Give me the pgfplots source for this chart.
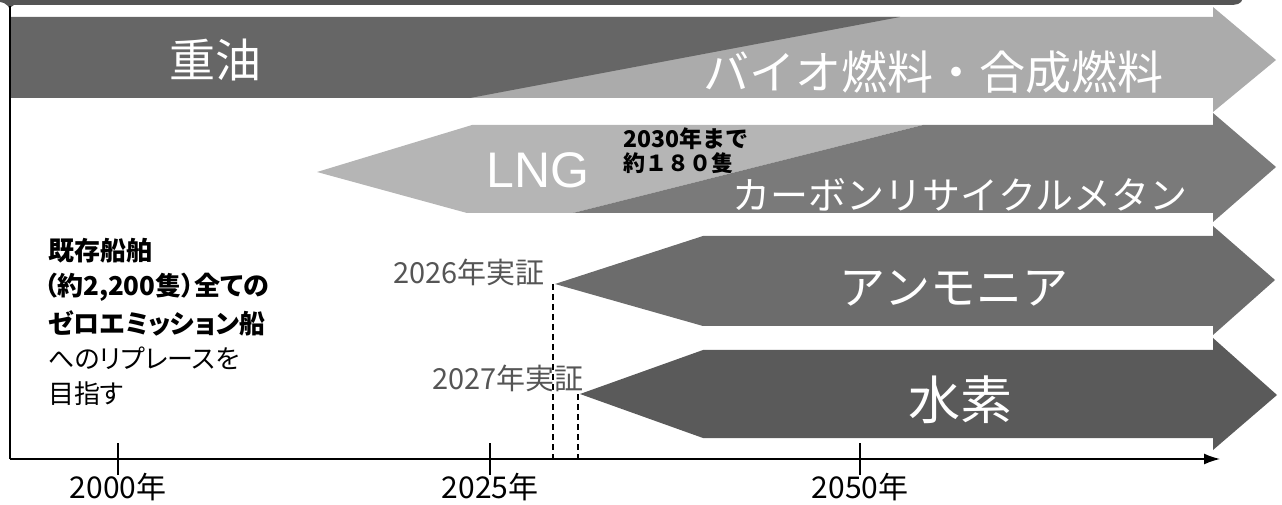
\documentclass[border=0pt]{standalone}
\usepackage{pgfplots}
\pgfplotsset{compat=1.18}
\usetikzlibrary{arrows.meta}
\usepackage{fontspec}
\setmainfont{Noto Sans CJK JP}
\newfontfamily\jpp[RawFeature=+palt]{Noto Sans CJK JP}
\newfontfamily\lat{Liberation Sans}
\definecolor{hdr}{HTML}{555555}
\definecolor{rowAdark}{HTML}{666666}
\definecolor{rowAlight}{HTML}{ABABAB}
\definecolor{lng}{HTML}{B5B5B5}
\definecolor{carbon}{HTML}{7A7A7A}
\definecolor{ammonia}{HTML}{6C6C6C}
\definecolor{hydrogen}{HTML}{5A5A5A}
\definecolor{lblgray}{HTML}{555555}
\begin{document}
\begin{tikzpicture}
\begin{axis}[
  scale only axis, width=1210pt, height=453pt,
  xmin=10, xmax=1220, ymin=43, ymax=496,
  axis x line=bottom, axis y line*=left,
  x axis line style={line width=1.5pt, -{Latex[length=16pt,width=11pt]}},
  y axis line style={line width=1.5pt, -},
  xtick={118,490,860}, xticklabels={2000年,2025年,2050年},
  ytick=\empty,
  xtick align=center, major tick length=32pt,
  xtick style={line width=1.5pt, black},
  xticklabel style={font=\fontsize{30}{32}\selectfont, anchor=center, yshift=-12pt},
  clip=false, axis on top,
]
% bounding frame (invisible)
\addplot[draw=none, forget plot] coordinates {(0,0) (1282,502)};
% header band
\addplot[fill=hdr, draw=none] coordinates {(0,502) (1242,502) (1241,500) (1238,498) (1233,497) (14,497) (11,495) (10,492) (8,496) (4,499) (0,500)};
% row 1: heavy oil -> bio/synthetic fuel
\addplot[fill=rowAlight, draw=none] coordinates {(470,485) (1213,485) (1213,495) (1276,442) (1213,390) (1213,404) (470,404)};
\addplot[fill=rowAdark, draw=none] coordinates {(10,485) (900,485) (470,404) (10,404)};
% row 2: LNG -> carbon recycle methane
\addplot[fill=lng, draw=none] coordinates {(317,330) (472,377) (923,377) (573,289) (467,289)};
\addplot[fill=carbon, draw=none] coordinates {(573,289) (923,377) (1213,377) (1213,389) (1276,335) (1213,280) (1213,289)};
% row 3: ammonia
\addplot[fill=ammonia, draw=none] coordinates {(555,218) (703,266) (1213,266) (1213,276) (1275,222) (1213,167) (1213,176) (703,176)};
% row 4: hydrogen
\addplot[fill=hydrogen, draw=none] coordinates {(580,108) (703,152) (1213,152) (1213,164) (1277,107) (1213,52) (1213,64) (703,64)};
% dashed demonstration markers
\addplot[black, line width=1.5pt, dash pattern=on 6pt off 4pt] coordinates {(553,218) (553,43)};
\addplot[black, line width=1.5pt, dash pattern=on 6pt off 4pt] coordinates {(578,108) (578,43)};
% labels in the bands
\node[text=white, font=\fontsize{46}{50}\selectfont] at (215,442) {重油};
\node[text=white, font=\fontsize{46}{50}\selectfont] at (933,430) {バイオ燃料・合成燃料};
\node[text=white, font=\lat\fontsize{50}{54}\selectfont] at (538,332) {LNG};
\node[anchor=west, inner sep=0pt, font=\bfseries\fontsize{23}{25}\selectfont] at (623,363) {2030年まで};
\node[anchor=west, inner sep=0pt, font=\bfseries\fontsize{22}{25}\selectfont] at (623,339) {約１８０隻};
\node[text=white, font=\fontsize{38}{42}\selectfont] at (960,307) {カーボンリサイクルメタン};
\node[text=white, font=\fontsize{46}{50}\selectfont] at (954,214) {アンモニア};
\node[text=white, font=\fontsize{52}{56}\selectfont] at (960,102) {水素};
% demonstration labels
\node[anchor=east, inner sep=0pt, text=lblgray, font=\fontsize{29}{31}\selectfont] at (545,230) {2026年実証};
\node[anchor=east, inner sep=0pt, text=lblgray, font=\fontsize{29}{31}\selectfont] at (584,124) {2027年実証};
% left text block
\node[anchor=west, inner sep=0pt, font=\jpp\bfseries\fontsize{26}{28}\selectfont] at (48,251) {既存船舶};
\node[anchor=west, inner sep=0pt, font=\jpp\bfseries\fontsize{26}{28}\selectfont] at (44,215) {（約2,200隻）全ての};
\node[anchor=west, inner sep=0pt, font=\jpp\bfseries\fontsize{26}{28}\selectfont] at (48,179) {ゼロエミッション船};
\node[anchor=west, inner sep=0pt, font=\jpp\fontsize{26}{28}\selectfont] at (48,144) {へのリプレースを};
\node[anchor=west, inner sep=0pt, font=\jpp\fontsize{26}{28}\selectfont] at (48,108) {目指す};
\end{axis}
\end{tikzpicture}
\end{document}
